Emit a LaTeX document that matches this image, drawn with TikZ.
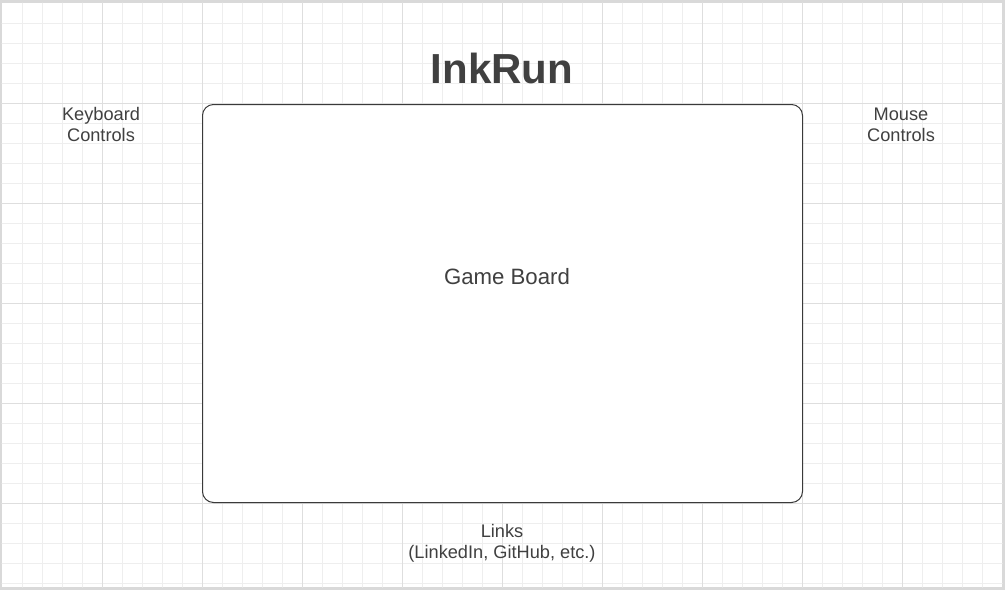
\documentclass[tikz,border=0pt]{standalone}
\usepackage{fontspec}
\setmainfont{Liberation Sans}
\definecolor{khung}{HTML}{D9D9D9}
\definecolor{luoinho}{HTML}{EEEEEE}
\definecolor{luoilon}{HTML}{DEDEDE}
\definecolor{chu}{HTML}{404040}
\begin{document}
\begin{tikzpicture}[x=1pt, y=-1pt, line join=round, line cap=round,
	nhan/.style={text=chu, align=center, font=\fontsize{18.2}{21}\selectfont, inner sep=0pt}]
	\useasboundingbox (0,0) rectangle (1005,590);
	% khung ngoai
	\fill[khung] (0,0) rectangle (1005,590);
	\fill[white] (2,3) rectangle (1002,587);
	% luoi
	\foreach \x in {22,42,...,1000}
		\draw[luoinho, line width=1] (\x,3) -- (\x,587);
	\foreach \y in {23,43,...,586}
		\draw[luoinho, line width=1] (2,\y) -- (1002,\y);
	\foreach \x in {102,202,...,1000}
		\draw[luoilon, line width=1] (\x,3) -- (\x,587);
	\foreach \y in {103,203,...,586}
		\draw[luoilon, line width=1] (2,\y) -- (1002,\y);
	% ban choi
	\draw[chu!90!black, fill=white, rounded corners=11, line width=1] (202.5,104.5) rectangle (802.5,502.5);
	\node[nhan, font=\fontsize{22.2}{26}\selectfont] (board) at (507,277) {Game Board};
	\node[nhan, font=\bfseries\fontsize{42}{48}\selectfont] (title) at (502,68) {InkRun};
	\node[nhan] (keys) at (101,124.3) {Keyboard\\Controls};
	\node[nhan] (mouse) at (901,124.5) {Mouse\\ Controls};
	\node[nhan] (links) at (502,543.5) {Links\\(LinkedIn, GitHub, etc.)};
\end{tikzpicture}
\end{document}
